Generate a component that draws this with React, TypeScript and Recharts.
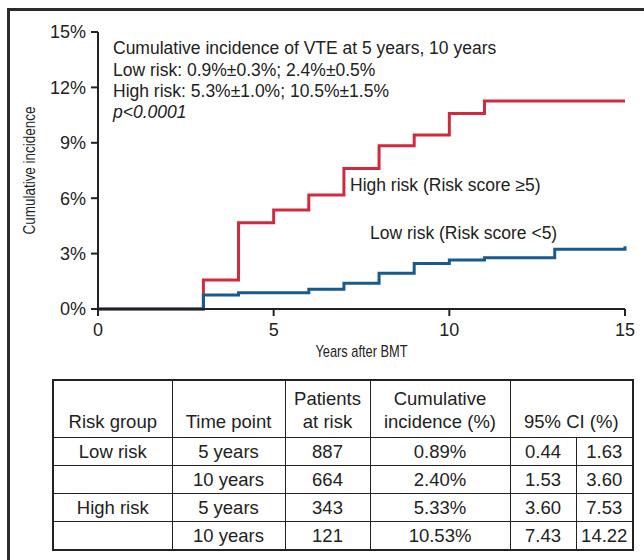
import React from 'react';
import { LineChart, Line, XAxis, YAxis, Label } from 'recharts';

const years = [0, 3, 4, 5, 6, 7, 8, 9, 10, 11, 13, 15];
const highRisk = [0, 1.57, 4.67, 5.36, 6.17, 7.61, 8.84, 9.42, 10.59, 11.27, 11.27, 11.27];
const lowRisk = [0, 0.76, 0.88, 0.88, 1.07, 1.39, 1.93, 2.47, 2.65, 2.78, 3.23, 3.4];

const yTicks = [0, 3, 6, 9, 12, 15];
const xTicks = [0, 5, 10, 15];

const annotationLines = [
  'Cumulative incidence of VTE at 5 years, 10 years',
  'Low risk: 0.9%±0.3%; 2.4%±0.5%',
  'High risk: 5.3%±1.0%; 10.5%±1.5%',
];
const pValueText = 'p<0.0001';
const highLabel = 'High risk (Risk score ≥5)';
const lowLabel = 'Low risk (Risk score <5)';

const tableRiskGroups = ['Low risk', '', 'High risk', ''];
const tableTimePoints = ['5 years', '10 years', '5 years', '10 years'];
const tableAtRisk = ['887', '664', '343', '121'];
const tableIncidence = ['0.89%', '2.40%', '5.33%', '10.53%'];
const tableCiLow = ['0.44', '1.53', '3.60', '7.43'];
const tableCiHigh = ['1.63', '3.60', '7.53', '14.22'];

const RED = '#cf2a3d';
const BLUE = '#195a8d';
const INK = '#222';
const SANS = "'Liberation Sans', Arial, Helvetica, sans-serif";

const data = years.map((y, i) => ({ year: y, high: highRisk[i], low: lowRisk[i] }));

const cell: React.CSSProperties = {
  border: `1.5px solid ${INK}`,
  textAlign: 'center',
  verticalAlign: 'middle',
  padding: 0,
  height: 27,
};
const headCell: React.CSSProperties = {
  ...cell,
  verticalAlign: 'bottom',
  paddingBottom: 4,
  height: 52,
  lineHeight: '23px',
};

export default function App() {
  return (
    <div
      style={{
        position: 'fixed',
        left: 0,
        top: 0,
        width: 644,
        height: 560,
        background: '#fff',
        overflow: 'hidden',
        fontFamily: SANS,
        color: INK,
      }}
    >
      <div
        style={{
          position: 'absolute',
          left: 7,
          top: 8,
          width: 660,
          height: 580,
          borderTop: '3px solid #2b2b2b',
          borderLeft: '3px solid #2b2b2b',
        }}
      />
      <div style={{ position: 'absolute', left: 0, top: 0 }}>
        <LineChart
          width={644}
          height={370}
          data={data}
          margin={{ top: 32, right: 19, bottom: 31, left: 0 }}
        >
          <XAxis
            dataKey="year"
            type="number"
            domain={[0, 15]}
            ticks={xTicks}
            height={30}
            axisLine={{ stroke: INK, strokeWidth: 2 }}
            tickLine={{ stroke: INK, strokeWidth: 2 }}
            tickSize={7}
            tickMargin={7}
            tick={{ fill: INK, fontSize: 18, fontFamily: SANS }}
          >
            <Label
              content={(props: any) => {
                const vb = props.viewBox || { x: 98, y: 309, width: 527, height: 30 };
                return (
                  <text
                    x={vb.x + vb.width / 2}
                    y={vb.y + 48}
                    textAnchor="middle"
                    fill={INK}
                    fontSize={17}
                    fontFamily={SANS}
                    textLength={92}
                    lengthAdjust="spacingAndGlyphs"
                  >
                    Years after BMT
                  </text>
                );
              }}
            />
          </XAxis>
          <YAxis
            type="number"
            domain={[0, 15]}
            ticks={yTicks}
            width={98}
            axisLine={{ stroke: INK, strokeWidth: 2 }}
            tickLine={{ stroke: INK, strokeWidth: 2 }}
            tickSize={7}
            tickMargin={5}
            tickFormatter={(v: number) => `${v}%`}
            tick={{ fill: INK, fontSize: 18, fontFamily: SANS }}
          >
            <Label
              content={(props: any) => {
                const vb = props.viewBox || { x: 0, y: 32, width: 98, height: 277 };
                const cx = 35;
                const cy = vb.y + vb.height / 2;
                return (
                  <text
                    x={cx}
                    y={cy}
                    transform={`rotate(-90 ${cx} ${cy})`}
                    textAnchor="middle"
                    fill={INK}
                    fontSize={17}
                    fontFamily={SANS}
                    textLength={128}
                    lengthAdjust="spacingAndGlyphs"
                  >
                    Cumulative incidence
                  </text>
                );
              }}
            />
          </YAxis>
          <Line
            type="stepAfter"
            dataKey="high"
            stroke={RED}
            strokeWidth={3}
            dot={false}
            isAnimationActive={false}
          />
          <Line
            type="stepAfter"
            dataKey="low"
            stroke={BLUE}
            strokeWidth={3}
            dot={false}
            isAnimationActive={false}
          />
        </LineChart>
      </div>
      <svg
        width={644}
        height={370}
        style={{ position: 'absolute', left: 0, top: 0, pointerEvents: 'none' }}
      >
        {annotationLines.map((t, i) => (
          <text key={i} x={113} y={54 + i * 21.5} fontSize={17.5} fontFamily={SANS} fill={INK}>
            {t}
          </text>
        ))}
        <text x={113} y={118} fontSize={17.5} fontFamily={SANS} fontStyle="italic" fill={INK}>
          {pValueText}
        </text>
        <text x={350} y={191} fontSize={17.5} fontFamily={SANS} fill={INK}>
          {highLabel}
        </text>
        <text x={370} y={239} fontSize={17.5} fontFamily={SANS} fill={INK}>
          {lowLabel}
        </text>
      </svg>
      <table
        style={{
          position: 'absolute',
          left: 52,
          top: 379,
          width: 580,
          borderCollapse: 'collapse',
          border: `2px solid ${INK}`,
          fontSize: 18.5,
          fontFamily: SANS,
          color: INK,
          tableLayout: 'fixed',
        }}
      >
        <colgroup>
          <col style={{ width: 119 }} />
          <col style={{ width: 113 }} />
          <col style={{ width: 85 }} />
          <col style={{ width: 140 }} />
          <col style={{ width: 66 }} />
          <col style={{ width: 57 }} />
        </colgroup>
        <tbody>
          <tr>
            <td style={headCell}>Risk group</td>
            <td style={headCell}>Time point</td>
            <td style={headCell}>
              Patients
              <br />
              at risk
            </td>
            <td style={headCell}>
              Cumulative
              <br />
              incidence (%)
            </td>
            <td style={headCell} colSpan={2}>
              95% CI (%)
            </td>
          </tr>
          {tableTimePoints.map((tp, i) => (
            <tr key={i}>
              <td style={cell}>{tableRiskGroups[i]}</td>
              <td style={cell}>{tp}</td>
              <td style={cell}>{tableAtRisk[i]}</td>
              <td style={cell}>{tableIncidence[i]}</td>
              <td style={cell}>{tableCiLow[i]}</td>
              <td style={cell}>{tableCiHigh[i]}</td>
            </tr>
          ))}
        </tbody>
      </table>
    </div>
  );
}
